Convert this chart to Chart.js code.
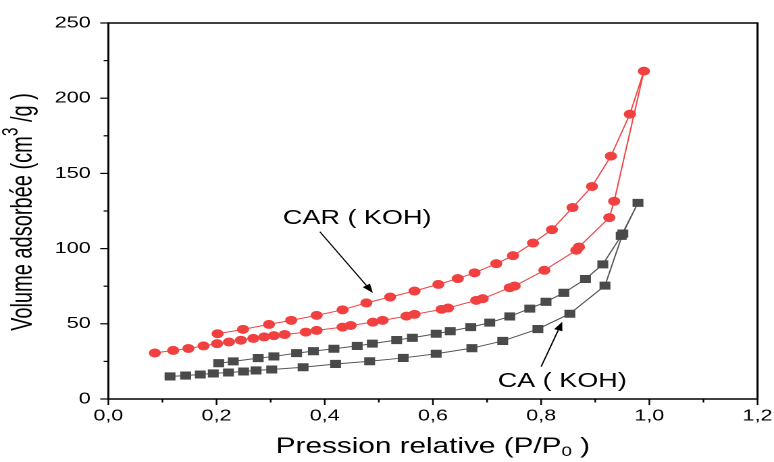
<!DOCTYPE html>
<html>
<head>
<meta charset="utf-8">
<script src="https://cdn.jsdelivr.net/npm/chart.js@4/dist/chart.umd.min.js"></script>
<style>
  html, body { margin: 0; padding: 0; background: #fff; }
</style>
</head>
<body>
<!-- the canvas is drawn narrow and widened by CSS, as the original export was -->
<canvas id="chart" width="573" height="462" style="display:block;width:774px;height:462px"></canvas>
<script>
// CAR (KOH): adsorption branch (rising) then desorption branch (falling)
let carAdsX = [0.086, 0.120, 0.148, 0.176, 0.201, 0.223, 0.245, 0.268, 0.288, 0.306, 0.326, 0.365, 0.385, 0.433, 0.448,
  0.489, 0.507, 0.551, 0.566, 0.616, 0.628, 0.680, 0.692, 0.742, 0.751, 0.806, 0.865, 0.870, 0.926, 0.935, 0.990];
let carAdsY = [30.6, 32.3, 33.6, 35.3, 36.8, 37.9, 39.1, 40.3, 41.3, 42.1, 42.9, 44.5, 45.6, 47.8, 48.9,
  51.1, 52.3, 55.1, 56.3, 59.6, 60.5, 65.6, 66.7, 74.0, 75.1, 85.6, 98.9, 101.1, 120.6, 131.5, 218.0];
let carDesX = [0.964, 0.929, 0.894, 0.858, 0.820, 0.785, 0.748, 0.717, 0.677, 0.646, 0.610, 0.566, 0.521, 0.477, 0.433,
  0.385, 0.338, 0.297, 0.249, 0.202];
let carDesY = [189.4, 161.5, 141.3, 127.3, 112.6, 103.7, 95.3, 90.0, 83.9, 80.1, 76.2, 71.8, 67.8, 63.9, 59.3,
  55.6, 52.3, 49.6, 46.3, 43.4];

// CA (KOH)
let caAdsX = [0.114, 0.143, 0.170, 0.194, 0.222, 0.250, 0.273, 0.302, 0.360, 0.420, 0.483, 0.545, 0.606, 0.672, 0.729,
  0.794, 0.853, 0.918, 0.951, 0.979];
let caAdsY = [15.0, 15.6, 16.3, 17.0, 17.6, 18.3, 19.0, 19.6, 21.1, 23.3, 25.1, 27.3, 30.1, 33.8, 38.6,
  46.5, 56.7, 75.4, 110.0, 130.4];
let caDesX = [0.948, 0.914, 0.882, 0.842, 0.809, 0.779, 0.742, 0.705, 0.670, 0.632, 0.606, 0.562, 0.533, 0.488, 0.460,
  0.417, 0.379, 0.348, 0.306, 0.277, 0.231, 0.204];
let caDesY = [108.5, 89.5, 79.8, 70.6, 64.6, 60.1, 54.9, 50.8, 47.8, 45.1, 43.4, 40.7, 39.2, 36.8, 35.3,
  33.4, 31.8, 30.5, 28.3, 27.2, 25.0, 23.8];

let xMin = 0, xMax = 1.2, xStep = 0.1;
let yMin = 0, yMax = 250, yStep = 25;

// text labels with arrows: [text, text x, text y, arrow from x, from y, to x, to y]
let notes = [
  ['CAR ( KOH)', 0.460, 120, 0.391, 111.2, 0.489, 70.5],
  ['CA ( KOH)', 0.839, 11.6, 0.800, 21.5, 0.839, 51.4]
];

const FONT = "'Liberation Sans', Arial, Helvetica, sans-serif";

function toPoints(xs, ys) {
  return xs.map((x, i) => ({ x: x, y: ys[i] }));
}

let caData = toPoints(caAdsX, caAdsY).concat(toPoints(caDesX, caDesY));
let carData = toPoints(carAdsX, carAdsY).concat(toPoints(carDesX, carDesY));

// frame, ticks, tick labels, axis titles and the arrows
const decorations = {
  id: 'decorations',
  afterDraw(chart) {
    const ctx = chart.ctx;
    const area = chart.chartArea;
    const xs = chart.scales.x, ys = chart.scales.y;
    ctx.save();
    ctx.strokeStyle = '#000';
    ctx.fillStyle = '#000';
    ctx.lineWidth = 1.5;
    ctx.strokeRect(area.left, area.top, area.right - area.left, area.bottom - area.top);

    ctx.lineWidth = 1.2;
    ctx.font = '16px ' + FONT;
    ctx.textBaseline = 'middle';

    xs.ticks.forEach(t => {
      const px = xs.getPixelForValue(t.value);
      const major = Math.round(t.value * 10) % 2 === 0;
      ctx.beginPath();
      ctx.moveTo(px, area.bottom);
      ctx.lineTo(px, area.bottom + (major ? 6 : 3.5));
      ctx.stroke();
      if (major) {
        ctx.textAlign = 'center';
        ctx.fillText(t.value.toFixed(1).replace('.', ','), px, area.bottom + 17);
      }
    });

    ys.ticks.forEach(t => {
      const py = ys.getPixelForValue(t.value);
      const major = Math.round(t.value) % 50 === 0;
      ctx.beginPath();
      ctx.moveTo(area.left - (major ? 6 : 3.5), py);
      ctx.lineTo(area.left, py);
      ctx.stroke();
      if (major) {
        ctx.textAlign = 'right';
        ctx.fillText(String(t.value), area.left - 13, py);
      }
    });

    // x title with subscript 0
    const xParts = [['Pression relative (P/P', 22, 0], ['0', 14, 5], [' )', 22, 0]];
    drawParts(ctx, xParts, (area.left + area.right) / 2, 447, 1);

    // y title with superscript 3, rotated and a little condensed
    ctx.save();
    ctx.translate(17.5, (area.top + area.bottom) / 2 + 1);
    ctx.rotate(-Math.PI / 2);
    const yParts = [['Volume adsorbée (cm', 22, 0], ['3', 17, -9], [' /g )', 22, 0]];
    drawParts(ctx, yParts, 0, 0, 0.91);
    ctx.restore();

    // annotations
    ctx.font = '20px ' + FONT;
    ctx.textAlign = 'center';
    notes.forEach(n => {
      ctx.fillText(n[0], xs.getPixelForValue(n[1]), ys.getPixelForValue(n[2]));
      arrow(ctx, xs.getPixelForValue(n[3]), ys.getPixelForValue(n[4]),
        xs.getPixelForValue(n[5]), ys.getPixelForValue(n[6]));
    });
    ctx.restore();
  }
};

// draws runs of text of different sizes side by side, centred on (cx, cy)
function drawParts(ctx, parts, cx, cy, squeeze) {
  let total = 0;
  parts.forEach(p => {
    ctx.font = p[1] + 'px ' + FONT;
    total += ctx.measureText(p[0]).width;
  });
  ctx.save();
  ctx.translate(cx, cy);
  ctx.scale(squeeze, 1);
  let x = -total / 2;
  ctx.textAlign = 'left';
  ctx.textBaseline = 'middle';
  parts.forEach(p => {
    ctx.font = p[1] + 'px ' + FONT;
    ctx.fillText(p[0], x, p[2]);
    x += ctx.measureText(p[0]).width;
  });
  ctx.restore();
}

function arrow(ctx, x1, y1, x2, y2) {
  const a = Math.atan2(y2 - y1, x2 - x1);
  const len = 9, half = 3.2;
  const bx = x2 - len * Math.cos(a), by = y2 - len * Math.sin(a);
  ctx.lineWidth = 1;
  ctx.beginPath();
  ctx.moveTo(x1, y1);
  ctx.lineTo(bx, by);
  ctx.stroke();
  ctx.beginPath();
  ctx.moveTo(x2, y2);
  ctx.lineTo(bx + half * Math.sin(a), by - half * Math.cos(a));
  ctx.lineTo(bx - half * Math.sin(a), by + half * Math.cos(a));
  ctx.closePath();
  ctx.fill();
}

new Chart(document.getElementById('chart'), {
  type: 'scatter',
  data: {
    datasets: [{
      label: 'CA ( KOH)',
      data: caData,
      showLine: true,
      borderColor: '#555555',
      borderWidth: 1,
      backgroundColor: '#4a4a4a',
      pointBackgroundColor: '#4a4a4a',
      pointBorderWidth: 0,
      pointStyle: 'rect',
      pointRadius: 5.7
    }, {
      label: 'CAR ( KOH)',
      data: carData,
      showLine: true,
      borderColor: '#f04444',
      borderWidth: 1,
      backgroundColor: '#f04040',
      pointBackgroundColor: '#f04040',
      pointBorderWidth: 0,
      pointStyle: 'circle',
      pointRadius: 4.5
    }]
  },
  options: {
    responsive: false,
    devicePixelRatio: 2,
    animation: false,
    layout: { padding: { top: 23, right: 12.2, left: 0, bottom: 0 } },
    plugins: {
      legend: { display: false },
      tooltip: { enabled: false }
    },
    scales: {
      x: {
        type: 'linear',
        min: xMin,
        max: xMax,
        ticks: { stepSize: xStep, display: false },
        grid: { display: false },
        border: { display: false },
        afterFit: (scale) => { scale.height = 63; }
      },
      y: {
        type: 'linear',
        min: yMin,
        max: yMax,
        ticks: { stepSize: yStep, display: false },
        grid: { display: false },
        border: { display: false },
        afterFit: (scale) => { scale.width = 80.2; }
      }
    }
  },
  plugins: [decorations]
});
</script>
</body>
</html>
